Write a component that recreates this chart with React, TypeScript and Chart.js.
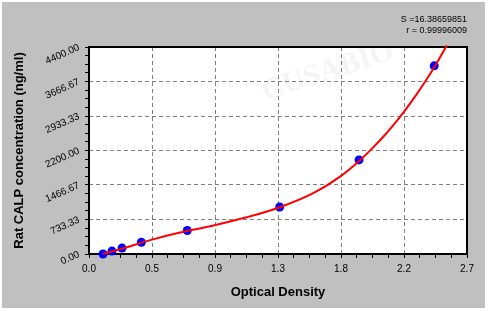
import React, { useEffect, useRef } from "react";
import { Chart, registerables } from "chart.js";

Chart.register(...registerables);

// Standards (measured points)
const odValues = [0.1, 0.164, 0.236, 0.374, 0.702, 1.362, 1.929, 2.466];
const concValues = [0, 62.5, 125, 250, 500, 1000, 2000, 4000];

// Fitted curve
const curveOD = [0.1, 0.236, 0.443, 0.65, 0.888, 1.126, 1.364, 1.602, 1.793, 1.936, 2.007, 2.102, 2.174, 2.252, 2.341, 2.412, 2.466, 2.507, 2.555];
const curveConc = [0, 115, 300, 455, 605, 780, 995, 1292, 1645, 1995, 2197, 2492, 2740, 3033, 3398, 3714, 3971, 4176, 4430];

// Axes
const xMajorTicks = [0, 0.45, 0.9, 1.35, 1.8, 2.25, 2.7];
const xTickLabels = ["0.0", "0.5", "0.9", "1.3", "1.8", "2.2", "2.7"];
const yMajorTicks = [0, 733.333, 1466.667, 2200, 2933.333, 3666.667, 4400];
const yTickLabels = ["0.00", "733.33", "1466.67", "2200.00", "2933.33", "3666.67", "4400.00"];
const minorDivisions = 4;

const xTitle = "Optical Density";
const yTitle = "Rat CALP concentration (ng/ml)";
const fitStats = ["S =16.38659851", "r = 0.99996009"];
const watermark = "CUSABIO";

const FONT = "'Liberation Sans', Arial, sans-serif";

function withMinor(majors: number[]): number[] {
  const out: number[] = [];
  for (let i = 0; i < majors.length - 1; i++) {
    const a = majors[i];
    const b = majors[i + 1];
    for (let k = 0; k < minorDivisions; k++) out.push(a + ((b - a) * k) / minorDivisions);
  }
  out.push(majors[majors.length - 1]);
  return out;
}

export default function App() {
  const ref = useRef<HTMLCanvasElement | null>(null);

  useEffect(() => {
    document.body.style.margin = "0";
    const canvas = ref.current;
    if (!canvas) return;

    const xAll = withMinor(xMajorTicks);
    const yAll = withMinor(yMajorTicks);

    const gridColor = (n: number) => (ctx: any) => {
      const i = ctx.index;
      if (i % minorDivisions !== 0 || i === 0 || i === n - 1) return "rgba(0,0,0,0)";
      return "#808080";
    };

    const decor = {
      id: "decor",
      beforeDraw(chart: any) {
        const { ctx, chartArea: a } = chart;
        ctx.save();
        ctx.fillStyle = "#ffffff";
        ctx.fillRect(0, 0, chart.width, chart.height);
        ctx.fillStyle = "#c0c0c0";
        ctx.fillRect(2, 2, 483, 306);
        ctx.fillStyle = "#ffffff";
        ctx.fillRect(a.left, a.top, a.right - a.left, a.bottom - a.top);
        // faint watermark
        ctx.beginPath();
        ctx.rect(a.left, a.top, a.right - a.left, a.bottom - a.top);
        ctx.clip();
        ctx.translate(328, 72);
        ctx.rotate((-18 * Math.PI) / 180);
        ctx.fillStyle = "rgba(0,0,0,0.045)";
        ctx.font = "bold 30px 'Liberation Serif', 'DejaVu Serif', serif";
        ctx.textAlign = "center";
        ctx.textBaseline = "middle";
        ctx.fillText(watermark, 0, 0);
        ctx.restore();
      },
      beforeDatasetsDraw(chart: any) {
        const { ctx, chartArea: a } = chart;
        ctx.save();
        ctx.strokeStyle = "#000000";
        ctx.lineWidth = 2;
        ctx.strokeRect(a.left, a.top, a.right - a.left, a.bottom - a.top);
        ctx.restore();
      },
      afterDraw(chart: any) {
        const { ctx, chartArea: a } = chart;
        ctx.save();
        ctx.fillStyle = "#000000";
        ctx.font = `9px ${FONT}`;
        ctx.textAlign = "right";
        ctx.textBaseline = "middle";
        ctx.fillText(fitStats[0], a.right, 19.5);
        ctx.fillText(fitStats[1], a.right, 31);
        ctx.restore();
      },
    };

    const chart = new Chart(canvas, {
      type: "scatter",
      data: {
        datasets: [
          {
            label: "fit",
            data: curveOD.map((x, i) => ({ x, y: curveConc[i] })),
            showLine: true,
            borderColor: "#ff0000",
            borderWidth: 2,
            pointRadius: 0,
            cubicInterpolationMode: "monotone",
            clip: false as any,
          },
          {
            label: "standards",
            data: odValues.map((x, i) => ({ x, y: concValues[i] })),
            showLine: false,
            pointRadius: 4.5,
            pointBackgroundColor: "#0000ff",
            pointBorderColor: "#0000ff",
            pointBorderWidth: 0,
            clip: false as any,
          },
        ],
      },
      options: {
        animation: false,
        responsive: false,
        maintainAspectRatio: false,
        layout: { padding: { left: 0, right: 22, top: 47, bottom: 0 } },
        plugins: {
          legend: { display: false },
          tooltip: { enabled: false },
        },
        scales: {
          x: {
            type: "linear",
            min: 0,
            max: 2.7,
            afterBuildTicks: (s: any) => {
              s.ticks = xAll.map((v) => ({ value: v }));
            },
            afterFit: (s: any) => {
              s.height = 57;
            },
            ticks: {
              autoSkip: false,
              maxRotation: 0,
              minRotation: 0,
              padding: 5,
              color: "#000000",
              font: { family: FONT, size: 10 },
              callback: (_v: any, i: number) => (i % minorDivisions === 0 ? xTickLabels[i / minorDivisions] : ""),
            },
            grid: {
              color: gridColor(xAll.length),
              lineWidth: 1,
              tickLength: 4,
              tickColor: "#000000",
              tickWidth: 1,
            },
            border: { display: false, dash: [4, 3] },
            title: {
              display: true,
              text: xTitle,
              color: "#000000",
              font: { family: FONT, size: 13, weight: "bold" },
              padding: { top: 0, bottom: 11 },
            },
          },
          y: {
            type: "linear",
            min: 0,
            max: 4400,
            afterBuildTicks: (s: any) => {
              s.ticks = yAll.map((v) => ({ value: v }));
            },
            afterFit: (s: any) => {
              s.width = 89;
            },
            ticks: {
              autoSkip: false,
              minRotation: 24,
              maxRotation: 24,
              padding: 6,
              color: "#000000",
              font: { family: FONT, size: 10 },
              callback: (_v: any, i: number) => (i % minorDivisions === 0 ? yTickLabels[i / minorDivisions] : ""),
            },
            grid: {
              color: gridColor(yAll.length),
              lineWidth: 1,
              tickLength: 4,
              tickColor: "#000000",
              tickWidth: 1,
            },
            border: { display: false, dash: [4, 3] },
            title: {
              display: true,
              text: yTitle,
              color: "#000000",
              font: { family: FONT, size: 13, weight: "bold" },
              padding: { top: 12, bottom: 0 },
            },
          },
        },
      },
      plugins: [decor],
    } as any);

    return () => chart.destroy();
  }, []);

  return <canvas ref={ref} width={489} height={311} style={{ display: "block", width: 489, height: 311 }} />;
}
